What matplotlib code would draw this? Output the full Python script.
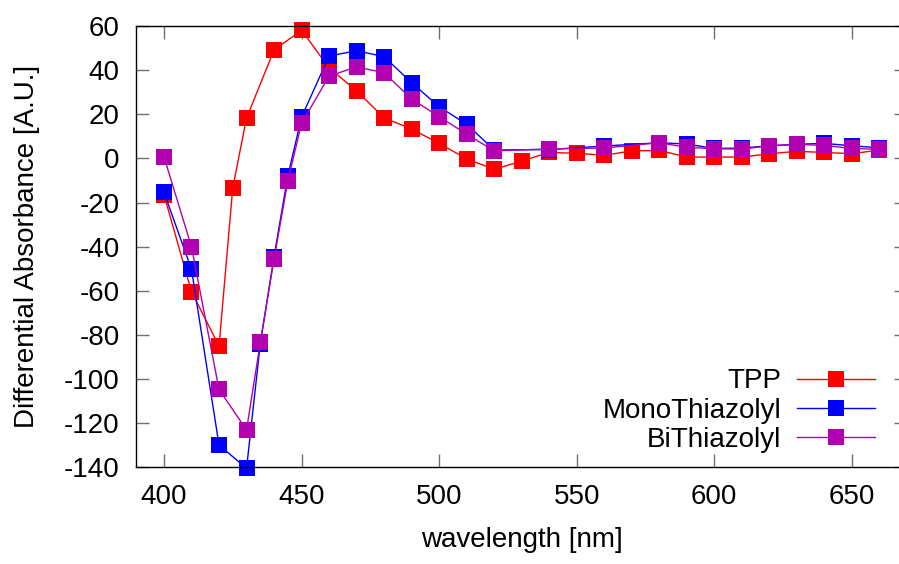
import matplotlib
matplotlib.use("Agg")
import matplotlib.pyplot as plt

plt.rcParams['font.family'] = ['Liberation Sans', 'DejaVu Sans']
plt.rcParams['axes.unicode_minus'] = False

# wavelengths (nm)
wl_tpp = [400, 410, 420, 425, 430, 440, 450, 460, 470, 480, 490, 500, 510, 520,
          530, 540, 550, 560, 570, 580, 590, 600, 610, 620, 630, 640, 650, 660]
wl_thz = [400, 410, 420, 430, 435, 440, 445, 450, 460, 470, 480, 490, 500, 510,
          520, 540, 560, 580, 590, 600, 610, 620, 630, 640, 650, 660]

# differential absorbance (A.U.)
tpp = [-16.5, -60.4, -85.1, -13.3, 18.3, 49.1, 58.1, 41.0, 30.6, 18.4, 13.3, 6.8,
       -0.2, -5.0, -1.2, 2.7, 2.3, 1.4, 3.4, 3.6, 0.6, 0.6, 0.6, 2.1, 3.2, 2.7,
       2.1, 3.8]
mono = [-15.4, -50.3, -129.9, -140.5, -84.0, -44.5, -8.0, 18.7, 46.4, 48.8, 46.1,
        34.3, 23.4, 15.5, 3.8, 4.0, 5.6, 7.1, 6.5, 4.5, 4.7, 5.7, 6.4, 6.8, 5.7,
        4.8]
bi = [0.7, -40.1, -104.7, -123.1, -83.4, -45.6, -10.3, 15.9, 37.3, 41.5, 38.8,
      26.9, 18.9, 11.0, 3.4, 4.3, 4.7, 7.1, 5.0, 4.4, 4.2, 5.7, 6.3, 5.9, 4.5,
      4.1]

fig = plt.figure(figsize=(8.99, 5.64), dpi=100)
ax = fig.add_axes([0.1518, 0.1715, 0.857, 0.7824])

style = dict(marker='s', markersize=12.2, markeredgewidth=0, linewidth=1.0,
             clip_on=False)
ax.plot(wl_tpp, tpp, color='#ff0000', label='TPP', **style)
ax.plot(wl_thz, mono, color='#0000ff', label='MonoThiazolyl', **style)
ax.plot(wl_thz, bi, color='#b000b0', label='BiThiazolyl', **style)

ax.set_xlim(390, 670)
ax.set_ylim(-140, 60)
ax.set_xticks(range(400, 651, 50))
ax.set_yticks(range(-140, 61, 20))

ax.tick_params(direction='in', length=9.4, width=1.0, color='#707070',
               top=True, right=True, labelsize=20, pad=12)
for s in ax.spines.values():
    s.set_linewidth(1.0)

ax.set_xlabel('wavelength [nm]', fontsize=20, labelpad=12)
ax.set_ylabel('Differential Absorbance [A.U.]', fontsize=20, labelpad=17)

ax.legend(loc='lower right', bbox_to_anchor=(0.958, 0.032), frameon=False,
          markerfirst=False, fontsize=20, handlelength=2.8,
          handletextpad=0.55, labelspacing=0.12, borderaxespad=0,
          borderpad=0)

fig.savefig('out.png', dpi=100)
